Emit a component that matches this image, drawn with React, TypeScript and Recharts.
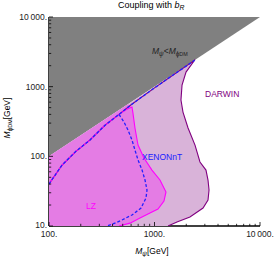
import React from "react";
import { ScatterChart, Scatter, XAxis, YAxis } from "recharts";

const FONT = "'Liberation Sans', Arial, sans-serif";

// axis ticks (log frame, Mathematica style)
const X_TICKS = [100, 200, 300, 400, 500, 600, 700, 800, 900, 1000, 2000, 3000, 4000, 5000, 6000, 7000, 8000, 9000, 10000];
const Y_TICKS = [10, 20, 30, 40, 50, 60, 70, 80, 90, 100, 200, 300, 400, 500, 600, 700, 800, 900, 1000, 2000, 3000, 4000, 5000, 6000, 7000, 8000, 9000, 10000];
const MAJORS = [10, 100, 1000, 10000];
const X_LABELS: Record<number, string> = { 100: "100.", 1000: "1000.", 10000: "10\u2009000." };
const Y_LABELS: Record<number, string> = { 10: "10.", 100: "100.", 1000: "1000.", 10000: "10\u2009000." };

// M_psi < M_phiDM region
const GRAY_X = [100, 10000, 100];
const GRAY_Y = [100, 10000, 10000];

// common near-diagonal boundary (coannihilation strip)
const STRIPE_X = [100, 133, 180, 245, 340, 461, 600, 1000, 1500, 2400];
const STRIPE_Y = [40, 75, 118, 172, 280, 400, 550, 960, 1470, 2390];

// DARWIN boundary after leaving the strip
const DARWIN_X = [2400, 1990, 1824, 1782, 1862, 2080, 2421, 2698, 3076, 3215, 3288, 3215, 2884, 2168, 1633, 1343];
const DARWIN_Y = [2400, 1620, 1055, 643, 432, 255, 145, 83, 63.5, 45.7, 32.8, 23.6, 18.1, 13.5, 11.4, 10];

// LZ boundary after leaving the strip
const LZ_X = [540, 612, 625, 653, 698, 795, 946, 1127, 1285, 1230, 1079, 906, 729, 586, 461];
const LZ_Y = [470, 509, 418, 255, 145, 94.6, 63.5, 45.7, 30.8, 22.8, 17.5, 15.4, 13.0, 11.0, 10];

// XENONnT branch from the strip
const XE_X = [461, 514, 561, 612, 653, 698, 762, 813, 849, 830, 745, 612, 492, 404, 355];
const XE_Y = [400, 310, 238, 171, 123, 88.5, 63.5, 45.7, 32.8, 25.2, 18.1, 14.4, 12.2, 10.7, 10];

const pts = (xs: number[], ys: number[]) => xs.map((x, i) => ({ x, y: ys[i] }));

const gray = pts(GRAY_X, GRAY_Y);
const stripe = pts(STRIPE_X, STRIPE_Y);
const darwinLine = [...stripe, ...pts(DARWIN_X, DARWIN_Y)];
const darwinFill = [{ x: 100, y: 10 }, { x: 100, y: 100 }, ...pts(DARWIN_X, DARWIN_Y)];
const lzLine = [...stripe.slice(0, 6), ...pts(LZ_X, LZ_Y)];
const lzFill = [{ x: 100, y: 10 }, { x: 100, y: 100 }, { x: 560, y: 560 }, ...pts(LZ_X, LZ_Y).slice(1)];
const xeBranch = pts(XE_X, XE_Y);

const NoDot = () => <g />;

const makeTick = (side: string, labels?: Record<number, string>) => (props: any) => {
  const { x, y, payload } = props;
  const v = payload.value;
  const len = MAJORS.includes(v) ? 4 : 2.2;
  const label = labels ? labels[v] : undefined;
  const st = { stroke: "#000", strokeWidth: 0.8 };
  let ln = null;
  let txt = null;
  if (side === "bottom") {
    ln = <line x1={x} x2={x} y1={y} y2={y - len} {...st} />;
    if (label) txt = <text x={x} y={y + 10.5} textAnchor="middle" fontSize={8.5} fontFamily={FONT} fill="#222">{label}</text>;
  } else if (side === "top") {
    ln = <line x1={x} x2={x} y1={y} y2={y + len} {...st} />;
  } else if (side === "left") {
    ln = <line x1={x} x2={x + len} y1={y} y2={y} {...st} />;
    if (label) txt = <text x={x - 2} y={v === 10 ? y + 2 : y + 3} textAnchor="end" fontSize={8.5} fontFamily={FONT} fill="#222">{label}</text>;
  } else {
    ln = <line x1={x} x2={x - len} y1={y} y2={y} {...st} />;
  }
  return <g>{ln}{txt}</g>;
};

const txt: React.CSSProperties = { position: "absolute", whiteSpace: "nowrap", fontFamily: FONT, fontSize: 8.5, lineHeight: 1 };
const sub: React.CSSProperties = { fontSize: "0.75em", verticalAlign: "-0.3em" };

export default function App() {
  return (
    <div style={{ position: "absolute", left: 0, top: 0, width: 274, height: 257, background: "#fff" }}>
      <ScatterChart width={274} height={257} margin={{ top: 17, right: 14, bottom: 0, left: 0 }}>
        <Scatter data={gray} isAnimationActive={false} shape={NoDot} line={{ fill: "#808080", stroke: "none" }} />
        <Scatter data={darwinFill} isAnimationActive={false} shape={NoDot} line={{ fill: "#d9b3d9", stroke: "none" }} />
        <Scatter data={lzFill} isAnimationActive={false} shape={NoDot} line={{ fill: "#e47ce4", stroke: "none" }} />
        <Scatter data={darwinLine} isAnimationActive={false} shape={NoDot} line={{ stroke: "#800080", strokeWidth: 1.1, fill: "none" }} />
        <Scatter data={lzLine} isAnimationActive={false} shape={NoDot} line={{ stroke: "#ff00ff", strokeWidth: 1.1, fill: "none" }} />
        <Scatter data={stripe} isAnimationActive={false} shape={NoDot} line={{ stroke: "#2020ff", strokeWidth: 1.3, strokeDasharray: "3 2", fill: "none" }} />
        <Scatter data={xeBranch} isAnimationActive={false} shape={NoDot} line={{ stroke: "#2020ff", strokeWidth: 1.3, strokeDasharray: "3 2", fill: "none" }} />
        <XAxis dataKey="x" type="number" scale="log" domain={[100, 10000]} allowDataOverflow ticks={X_TICKS} interval={0}
          height={31} tickSize={0} tickMargin={0} tickLine={false} axisLine={{ stroke: "#000", strokeWidth: 1.5 }} tick={makeTick("bottom", X_LABELS)} />
        <XAxis xAxisId="top" orientation="top" type="number" scale="log" domain={[100, 10000]} allowDataOverflow ticks={X_TICKS} interval={0}
          height={0} tickSize={0} tickMargin={0} tickLine={false} axisLine={{ stroke: "#000", strokeWidth: 1 }} tick={makeTick("top")} />
        <YAxis dataKey="y" type="number" scale="log" domain={[10, 10000]} allowDataOverflow ticks={Y_TICKS} interval={0}
          width={49} tickSize={0} tickMargin={0} tickLine={false} axisLine={{ stroke: "#000", strokeWidth: 1.5 }} tick={makeTick("left", Y_LABELS)} />
        <YAxis yAxisId="right" orientation="right" type="number" scale="log" domain={[10, 10000]} allowDataOverflow ticks={Y_TICKS} interval={0}
          width={0} tickSize={0} tickMargin={0} tickLine={false} axisLine={{ stroke: "#000", strokeWidth: 1 }} tick={makeTick("right")} />
      </ScatterChart>

      <div style={{ ...txt, left: 118, top: 1, fontSize: 9 }}>
        Coupling with <i>b</i><span style={sub}><i>R</i></span>
      </div>
      <div style={{ ...txt, left: 152, top: 247, transform: "translateX(-50%)" }}>
        <i>M</i><span style={sub}><i>ψ</i></span>[GeV]
      </div>
      <div style={{ ...txt, left: 8, top: 118, transform: "translate(-50%, -50%) rotate(-90deg)" }}>
        <i>M</i><span style={sub}>ϕ<span style={{ fontSize: "0.85em" }}>DM</span></span>[GeV]
      </div>
      <div style={{ ...txt, left: 152, top: 47, color: "#222" }}>
        <i>M</i><span style={sub}><i>ψ</i></span>&lt;<i>M</i><span style={sub}>ϕ<span style={{ fontSize: "0.85em" }}>DM</span></span>
      </div>
      <div style={{ ...txt, left: 205, top: 90, color: "#800080" }}>DARWIN</div>
      <div style={{ ...txt, left: 142, top: 153, color: "#2020ff" }}>XENONnT</div>
      <div style={{ ...txt, left: 86, top: 202, color: "#ff00ff" }}>LZ</div>
    </div>
  );
}
